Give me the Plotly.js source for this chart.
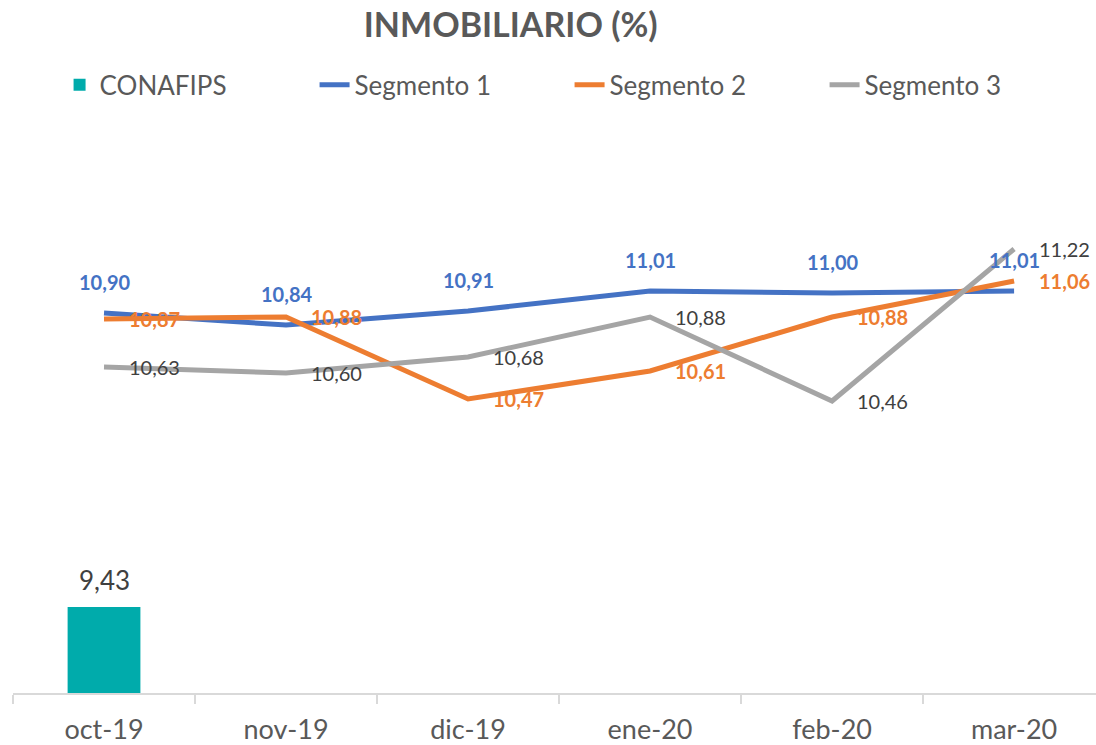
<!DOCTYPE html>
<html>
<head>
<meta charset="utf-8">
<script src="https://cdn.plot.ly/plotly-3.0.1.min.js"></script>
<style>
  html, body { margin: 0; padding: 0; background: #fff; }
  #chart { width: 1096px; height: 745px; }
</style>
</head>
<body>
<div id="chart"></div>
<script>
const categories = ["oct-19", "nov-19", "dic-19", "ene-20", "feb-20", "mar-20"];
const conafips = [9.43, null, null, null, null, null];
const segmento1 = [10.90, 10.84, 10.91, 11.01, 11.00, 11.01];
const segmento2 = [10.87, 10.88, 10.47, 10.61, 10.88, 11.06];
const segmento3 = [10.63, 10.60, 10.68, 10.88, 10.46, 11.22];

const FONT = "Lato, 'Open Sans', sans-serif";
const C_BAR = "#00ABAB", C1 = "#4472C4", C2 = "#ED7D31", C3 = "#A5A5A5";
const fmt = v => v.toFixed(2).replace(".", ",");

const traces = [
  { type: "bar", name: "CONAFIPS", x: categories, y: conafips, width: 0.4,
    marker: { color: C_BAR }, hoverinfo: "skip" },
  { type: "scatter", mode: "lines", name: "Segmento 1", x: categories, y: segmento1,
    line: { color: C1, width: 5 } },
  { type: "scatter", mode: "lines", name: "Segmento 2", x: categories, y: segmento2,
    line: { color: C2, width: 5 } },
  { type: "scatter", mode: "lines", name: "Segmento 3", x: categories, y: segmento3,
    line: { color: C3, width: 5 } }
];

const annotations = [];
conafips.forEach((v, i) => {
  if (v !== null) annotations.push({ x: categories[i], y: v, text: fmt(v), showarrow: false,
    yanchor: "bottom", yshift: 9, font: { family: FONT, size: 26, color: "#404040" } });
});
segmento1.forEach((v, i) => annotations.push({ x: categories[i], y: v, text: "<b>" + fmt(v) + "</b>",
  showarrow: false, yanchor: "middle", yshift: 31, font: { family: FONT, size: 20, color: C1 } }));
segmento2.forEach((v, i) => annotations.push({ x: categories[i], y: v, text: "<b>" + fmt(v) + "</b>",
  showarrow: false, xanchor: "left", yanchor: "middle", xshift: 23, font: { family: FONT, size: 20, color: C2 } }));
segmento3.forEach((v, i) => annotations.push({ x: categories[i], y: v, text: fmt(v),
  showarrow: false, xanchor: "left", yanchor: "middle", xshift: 23, font: { family: FONT, size: 20, color: "#404040" } }));

const layout = {
  width: 1096, height: 745,
  margin: { l: 13, r: 0, t: 133, b: 52 },
  paper_bgcolor: "#fff", plot_bgcolor: "#fff",
  title: { text: "<b>INMOBILIARIO (%)</b>", x: 0.466, xanchor: "center", y: 0.966, yanchor: "middle",
    font: { family: FONT, size: 34, color: "#595959" } },
  showlegend: true,
  legend: { orientation: "h", x: 0.043, xanchor: "left", y: 1.086, yanchor: "middle",
    font: { family: FONT, size: 26, color: "#595959" }, entrywidth: 210, traceorder: "normal" },
  xaxis: { type: "category", range: [-0.5, 5.45], tickson: "boundaries", ticks: "outside",
    ticklen: 9, tickwidth: 1.5, tickcolor: "#D9D9D9", showline: true, linecolor: "#D9D9D9",
    linewidth: 1.5, showgrid: false, fixedrange: true, ticklabelstandoff: 12,
    tickfont: { family: FONT, size: 27, color: "#595959" } },
  yaxis: { range: [9, 11.8], visible: false, showgrid: false, zeroline: false, fixedrange: true },
  annotations: annotations
};

Plotly.newPlot("chart", traces, layout, { displayModeBar: false, staticPlot: true });
</script>
</body>
</html>
